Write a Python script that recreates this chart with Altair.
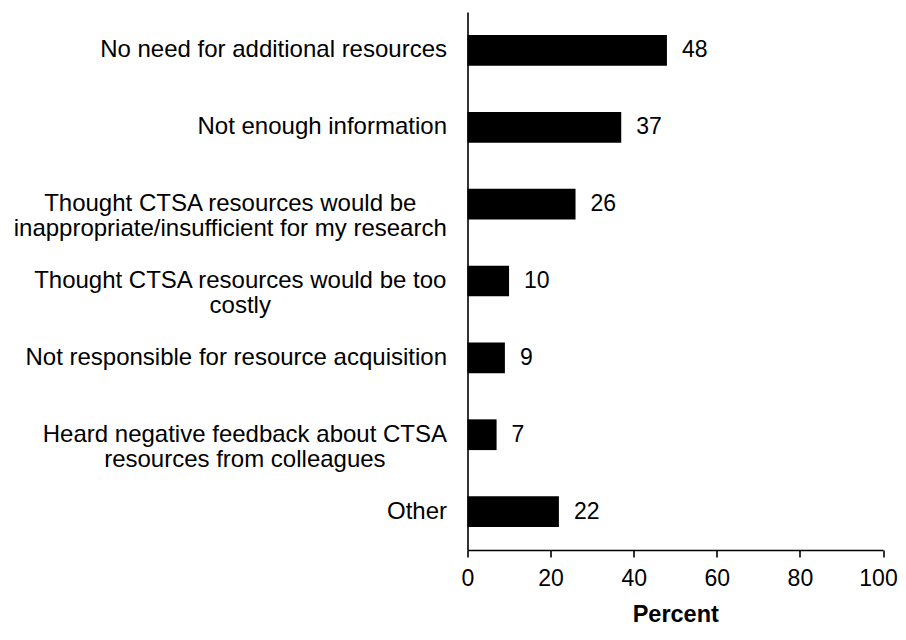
import altair as alt
import pandas as pd

# ---- data ----
categories = [
    "No need for additional resources",
    "Not enough information",
    "Thought CTSA resources would be|inappropriate/insufficient for my research",
    "Thought CTSA resources would be too|costly",
    "Not responsible for resource acquisition",
    "Heard negative feedback about CTSA|resources from colleagues",
    "Other",
]
values = [48, 37, 26, 10, 9, 7, 22]
x_ticks = [0, 20, 40, 60, 80, 100]

# ---- style helpers ----
FONT = "Liberation Sans"
LABEL_SIZE = 24
NUM_SIZE = 23
GAP = 21
# widest line (em, Arial metrics) of each multi-line label, used to centre lines in a right-aligned block
multi_line_em = {categories[2]: 18.062, categories[3]: 17.230, categories[5]: 16.842}

pad_conditions = [
    {"test": f"datum.value === '{c}'", "value": GAP + em * LABEL_SIZE / 2}
    for c, em in multi_line_em.items()
]

df = pd.DataFrame({"category": categories, "value": values})

y_enc = alt.Y(
    "category:N",
    sort=categories,
    scale=alt.Scale(paddingInner=0.6, paddingOuter=0.3),
    axis=alt.Axis(
        title=None,
        ticks=False,
        labelExpr="split(datum.value, '|')",
        labelFont=FONT,
        labelFontSize=LABEL_SIZE,
        labelLineHeight=25,
        labelLimit=800,
        labelColor="black",
        labelAlign={"condition": {"test": "indexof(datum.value, '|') >= 0", "value": "center"}, "value": "right"},
        labelPadding={"condition": pad_conditions, "value": GAP},
        domainColor="black",
        domainWidth=1.6,
    ),
)

x_enc = alt.X(
    "value:Q",
    scale=alt.Scale(domain=[0, 100], nice=False),
    axis=alt.Axis(
        values=x_ticks,
        title="Percent",
        titleFont=FONT,
        titleFontSize=23.5,
        titleFontWeight="bold",
        titleColor="black",
        titleBaseline="alphabetic",
        titleY=71,
        grid=False,
        tickSize=7,
        tickWidth=1.6,
        tickColor="black",
        domainColor="black",
        domainWidth=1.6,
        labelFont=FONT,
        labelFontSize=NUM_SIZE,
        labelColor="black",
        labelPadding=10,
        labelFlush=False,
        labelOffset={"condition": {"test": "datum.value === 100", "value": -5}, "value": 0},
    ),
)

bars = alt.Chart(df).mark_bar(color="black").encode(x=x_enc, y=y_enc)
texts = alt.Chart(df).mark_text(
    align="left", baseline="middle", dx=15, font=FONT, fontSize=NUM_SIZE, color="black"
).encode(x=x_enc, y=y_enc, text="value:Q")

chart = (
    alt.layer(bars, texts)
    .properties(
        width=415.5,
        height=538,
        autosize=alt.AutoSizeParams(type="none"),
        padding={"left": 459.5, "top": 4, "right": 15, "bottom": 76},
    )
    .configure_view(stroke=None)
)

chart.save("out.html", embed_options={"renderer": "svg", "actions": False})
